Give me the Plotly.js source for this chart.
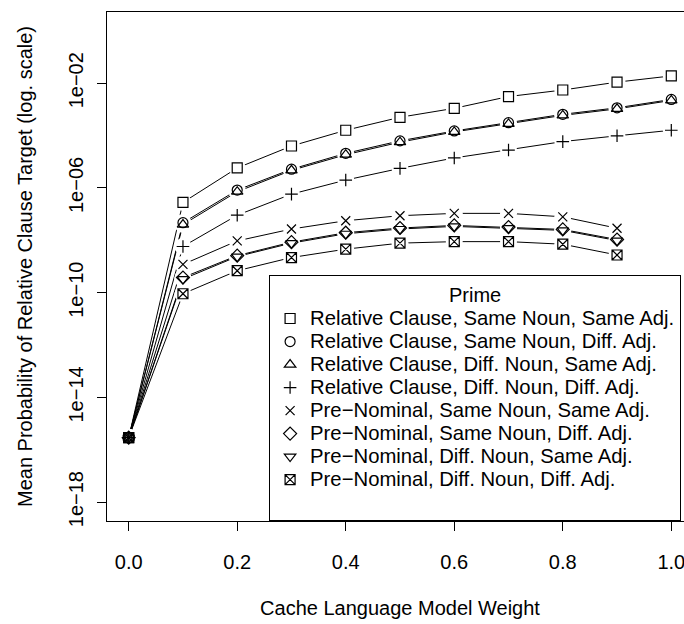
<!DOCTYPE html>
<html>
<head>
<meta charset="utf-8">
<script src="https://cdn.plot.ly/plotly-3.0.1.min.js"></script>
<style>
  html, body { margin: 0; padding: 0; overflow: hidden; background: #fff; }
  #chart { width: 693px; height: 624px; }
</style>
</head>
<body>
<div id="chart"></div>
<script>
// Cache language model weights
const weights = [0.0, 0.1, 0.2, 0.3, 0.4, 0.5, 0.6, 0.7, 0.8, 0.9, 1.0];

// Mean probability of relative clause target, per prime condition
const rcSameNounSameAdj = [2.9e-16, 2.8e-7, 5.8e-6, 4.0e-5, 1.6e-4, 5.0e-4, 1.1e-3, 3.1e-3, 5.5e-3, 1.1e-2, 1.9e-2];
const rcSameNounDiffAdj = [2.9e-16, 4.7e-8, 8.3e-7, 5.2e-6, 2.1e-5, 6.3e-5, 1.5e-4, 3.1e-4, 6.5e-4, 1.15e-3, 2.4e-3];
const rcDiffNounSameAdj = [2.9e-16, 4.0e-8, 7.2e-7, 4.7e-6, 1.86e-5, 5.6e-5, 1.38e-4, 2.8e-4, 5.9e-4, 1.05e-3, 2.2e-3];
const rcDiffNounDiffAdj = [2.9e-16, 5.8e-9, 9.1e-8, 5.8e-7, 2.0e-6, 5.6e-6, 1.4e-5, 2.8e-5, 5.9e-5, 9.8e-5, 1.6e-4];
const pnSameNounSameAdj = [2.9e-16, 1.2e-9, 9.5e-9, 2.7e-8, 5.6e-8, 8.7e-8, 1.07e-7, 1.07e-7, 7.9e-8, 2.9e-8];
const pnSameNounDiffAdj = [2.9e-16, 3.8e-10, 2.6e-9, 8.5e-9, 1.95e-8, 2.95e-8, 3.7e-8, 3.2e-8, 2.6e-8, 1.07e-8];
const pnDiffNounSameAdj = [2.9e-16, 3.3e-10, 2.4e-9, 7.8e-9, 1.78e-8, 2.7e-8, 3.4e-8, 2.9e-8, 2.4e-8, 9.8e-9];
const pnDiffNounDiffAdj = [2.9e-16, 9.1e-11, 6.9e-10, 2.2e-9, 4.6e-9, 7.8e-9, 8.9e-9, 8.9e-9, 7.1e-9, 2.75e-9];

const seriesNames = [
  "Relative Clause, Same Noun, Same Adj.",
  "Relative Clause, Same Noun, Diff. Adj.",
  "Relative Clause, Diff. Noun, Same Adj.",
  "Relative Clause, Diff. Noun, Diff. Adj.",
  "Pre\u2212Nominal, Same Noun, Same Adj.",
  "Pre\u2212Nominal, Same Noun, Diff. Adj.",
  "Pre\u2212Nominal, Diff. Noun, Same Adj.",
  "Pre\u2212Nominal, Diff. Noun, Diff. Adj."
];
const legendTitle = "Prime";

const yTickVals = [1e-18, 1e-14, 1e-10, 1e-6, 1e-2];
const yTickText = ["1e\u221218", "1e\u221214", "1e\u221210", "1e\u221206", "1e\u221202"];
const xTickVals = [0.0, 0.2, 0.4, 0.6, 0.8, 1.0];
const xTickText = ["0.0", "0.2", "0.4", "0.6", "0.8", "1.0"];

const seriesValues = [rcSameNounSameAdj, rcSameNounDiffAdj, rcDiffNounSameAdj, rcDiffNounDiffAdj,
                      pnSameNounSameAdj, pnSameNounDiffAdj, pnDiffNounSameAdj, pnDiffNounDiffAdj];
const symbols = ["square-open", "circle-open", "triangle-up-open", "cross-thin-open",
                 "x-thin-open", "diamond-open", "triangle-down-open", "square-x-open"];
const sizes = [10, 10, 10, 9, 9, 10, 10, 10];

const FONT = "Liberation Sans, Arial, Helvetica, sans-serif";
const traces = [];

// connecting lines
seriesValues.forEach((vals, i) => {
  traces.push({
    x: weights.slice(0, vals.length), y: vals,
    type: "scatter", mode: "lines",
    line: { color: "#000", width: 1 },
    showlegend: false, hoverinfo: "skip"
  });
});

// white gaps around the points (like R type = "b")
let gapX = [], gapY = [];
seriesValues.forEach(vals => {
  gapX = gapX.concat(weights.slice(0, vals.length));
  gapY = gapY.concat(vals);
});
traces.push({
  x: gapX, y: gapY, type: "scatter", mode: "markers",
  marker: { symbol: "circle", size: 17, color: "#fff", line: { width: 0 } },
  showlegend: false, hoverinfo: "skip"
});

// point symbols
seriesValues.forEach((vals, i) => {
  traces.push({
    x: weights.slice(0, vals.length), y: vals,
    type: "scatter", mode: "markers",
    name: '<span style="font-size:20.3px">' + seriesNames[i] + '</span>',
    marker: { symbol: symbols[i], size: sizes[i], color: "#000", line: { color: "#000", width: 1.2 } },
    hoverinfo: "skip"
  });
});

// empty legend row (legend-only, draws nothing): bottom padding of the legend box
traces.push({
  x: weights.slice(0, 1), y: rcSameNounSameAdj.slice(0, 1),
  type: "scatter", mode: "markers", name: " ",
  visible: "legendonly",
  marker: { symbol: "circle", size: 1, opacity: 0, color: "#fff" },
  hoverinfo: "skip"
});

const layout = {
  width: 693, height: 624,
  margin: { l: 107, r: 0, t: 12, b: 103 },
  paper_bgcolor: "#fff", plot_bgcolor: "#fff",
  font: { family: FONT, size: 20, color: "#000" },
  showlegend: true,
  xaxis: {
    range: [-0.04, 1.04],
    tickvals: xTickVals, ticktext: xTickText,
    ticks: "outside", ticklen: 9, tickwidth: 1, tickcolor: "#000",
    ticklabelstandoff: 14,
    showline: true, linecolor: "#000", linewidth: 1, mirror: true,
    showgrid: false, zeroline: false,
    tickfont: { family: FONT, size: 20 },
    title: { text: "Cache Language Model Weight", font: { family: FONT, size: 20 }, standoff: 28 }
  },
  yaxis: {
    type: "log",
    range: [-18.72, 0.72],
    tickvals: yTickVals, ticktext: yTickText,
    tickangle: -90,
    ticks: "outside", ticklen: 9, tickwidth: 1, tickcolor: "#000",
    ticklabelstandoff: 6,
    showline: true, linecolor: "#000", linewidth: 1, mirror: true,
    showgrid: false, zeroline: false,
    tickfont: { family: FONT, size: 20 },
    title: { text: "Mean Probability of Relative Clause Target (log. scale)", font: { family: FONT, size: 20 }, standoff: 27 }
  },
  legend: {
    x: 0.2766, y: 0, xanchor: "left", yanchor: "bottom",
    bgcolor: "#fff", bordercolor: "#000", borderwidth: 1,
    font: { family: FONT, size: 15.4 },
    title: { text: legendTitle, side: "top center", font: { family: FONT, size: 20 } },
    tracegroupgap: 0,
    itemsizing: "trace"
  }
};

Plotly.newPlot("chart", traces, layout, { staticPlot: true, displayModeBar: false });
</script>
</body>
</html>
